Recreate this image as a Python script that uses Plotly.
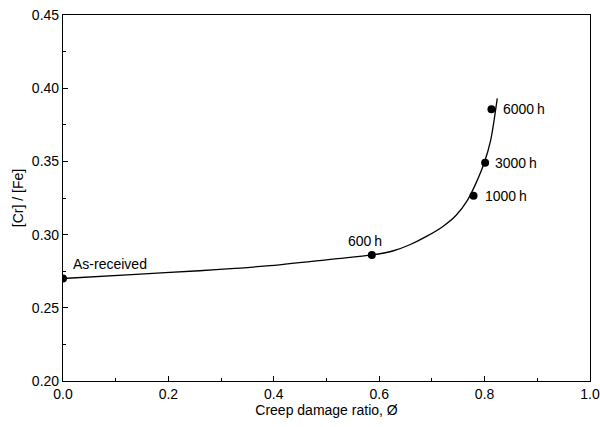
import plotly.graph_objects as go

# Fitted curve
curve_x = [0.0, 0.13, 0.259, 0.386, 0.512, 0.586, 0.6256, 0.657, 0.6888, 0.7203, 0.7456, 0.7676, 0.7835, 0.799, 0.8116, 0.824]
curve_y = [0.270, 0.2727, 0.2753, 0.2786, 0.2833, 0.2861, 0.2888, 0.2929, 0.2986, 0.3054, 0.313, 0.3236, 0.335, 0.3487, 0.3646, 0.393]

# Measured points
pt_x = [0.0, 0.586, 0.779, 0.801, 0.813]
pt_y = [0.270, 0.2861, 0.3266, 0.349, 0.3856]
pt_labels = ["As-received", "600\u2009h", "1000\u2009h", "3000\u2009h", "6000\u2009h"]

FONT = "Liberation Sans, Arial, sans-serif"

fig = go.Figure()
fig.add_trace(go.Scatter(x=curve_x, y=curve_y, mode="lines",
                         line=dict(color="black", width=1.3, shape="spline", smoothing=0.8),
                         hoverinfo="skip", showlegend=False))
fig.add_trace(go.Scatter(x=pt_x, y=pt_y, mode="markers",
                         marker=dict(color="black", size=8), showlegend=False))

# label placements (pixel shifts, anchor)
offsets = [(8, 15, "left"), (-7, 14, "center"), (9, 0, "left"), (8, 0, "left"), (10, 0, "left")]
for x, y, t, (dx, dy, anc) in zip(pt_x, pt_y, pt_labels, offsets):
    fig.add_annotation(x=x, y=y, text=t, showarrow=False, xanchor=anc, yanchor="middle",
                       xshift=dx, yshift=dy, font=dict(family=FONT, size=14, color="black"))

axis_common = dict(showline=True, linecolor="black", linewidth=1.2, mirror=True,
                   ticks="inside", ticklen=5, tickwidth=1, tickcolor="black",
                   showgrid=False, zeroline=False, automargin=False,
                   ticklabeloverflow="allow",
                   tickfont=dict(family=FONT, size=14, color="black"),
                   title_font=dict(family=FONT, size=14, color="black"))

fig.update_xaxes(range=[0, 1.0], tick0=0, dtick=0.2, tickformat=".1f",
                 minor=dict(ticks="inside", ticklen=3, dtick=0.1, tickcolor="black"),
                 title_text="Creep damage ratio, \u00d8", title_standoff=2, **axis_common)
fig.update_yaxes(range=[0.20, 0.45], tick0=0.2, dtick=0.05, tickformat=".2f",
                 minor=dict(ticks="inside", ticklen=3, dtick=0.025, tickcolor="black"),
                 title_text="[Cr] / [Fe]", title_standoff=4, **axis_common)

fig.update_layout(width=600, height=427, margin=dict(l=63, r=10, t=15, b=46),
                  plot_bgcolor="white", paper_bgcolor="white",
                  font=dict(family=FONT, size=14, color="black"))

fig.write_html("out.html", config={"displayModeBar": False},
               post_script="document.body.style.margin='0';document.body.style.overflow='hidden';")
